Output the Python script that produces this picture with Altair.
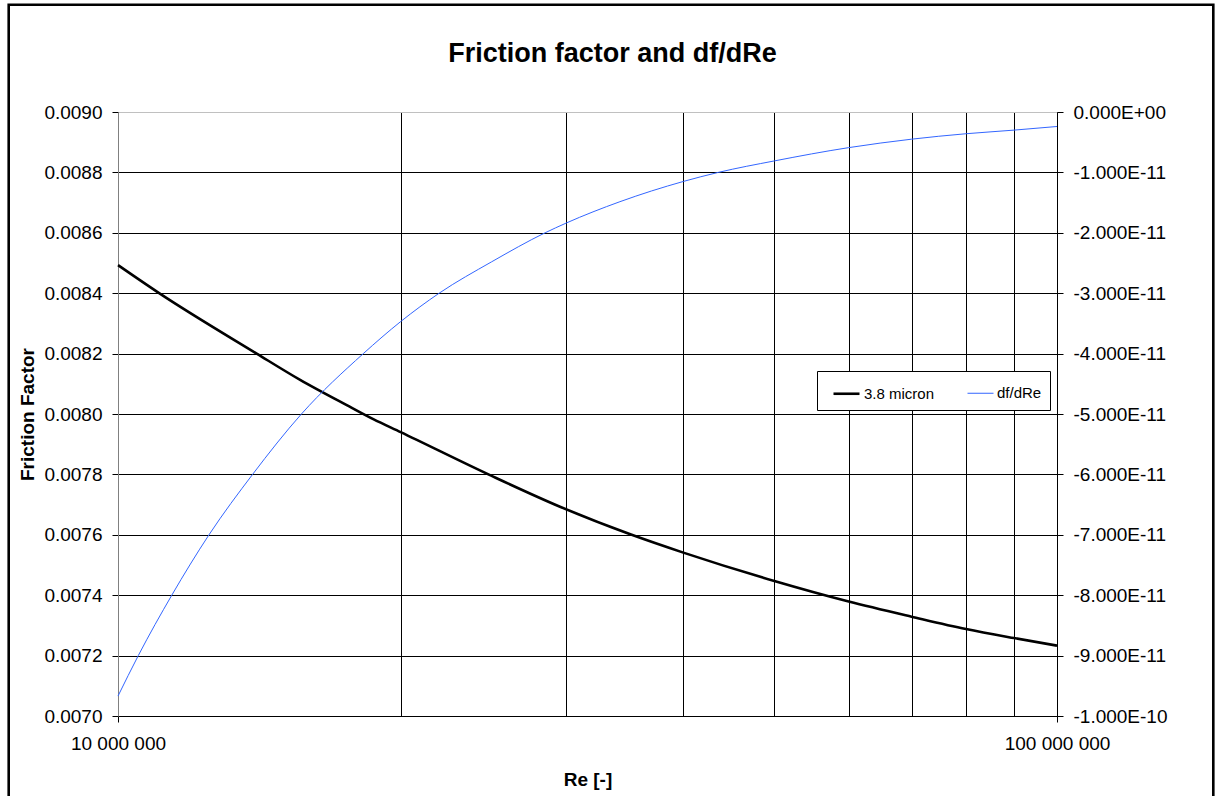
import altair as alt
import pandas as pd

# Friction factor (3.8 micron roughness) against Reynolds number
re_f = [1.0e7, 1.104e7, 1.405e7, 1.563e7, 1.763e7, 1.870e7, 2.0e7, 2.5e7, 2.956e7,
        3.524e7, 4.0e7, 5.0e7, 6.0e7, 7.0e7, 8.0e7, 9.0e7, 1.0e8]
f_vals = [0.008493, 0.008402, 0.008200, 0.008113, 0.008025, 0.007983, 0.007940, 0.007795,
          0.007693, 0.007600, 0.007541, 0.007447, 0.007379, 0.007329, 0.007288, 0.007258, 0.007233]

# Derivative df/dRe
re_d = [1.0e7, 1.051e7, 1.141e7, 1.250e7, 1.391e7, 1.568e7, 1.825e7, 2.0e7, 2.198e7, 2.5e7,
        2.850e7, 3.0e7, 3.424e7, 4.0e7, 4.358e7, 5.0e7, 6.0e7, 7.0e7, 8.0e7, 9.0e7, 1.0e8]
d_vals = [-9.67e-11, -9.0e-11, -8.0e-11, -7.0e-11, -6.0e-11, -5.0e-11, -4.0e-11, -3.47e-11,
          -3.0e-11, -2.48e-11, -2.0e-11, -1.84e-11, -1.485e-11, -1.15e-11, -1.0e-11, -0.81e-11,
          -0.59e-11, -0.45e-11, -0.36e-11, -0.30e-11, -0.24e-11]

series_names = ["3.8 micron", "df/dRe"]
series_colors = ["#000000", "#3366ff"]
series_widths = [2.6, 1.0]

x_ticks = [1e7, 2e7, 3e7, 4e7, 5e7, 6e7, 7e7, 8e7, 9e7, 1e8]
x_tick_labels = {1e7: "10 000 000", 1e8: "100 000 000"}

left_ticks = [0.0070, 0.0072, 0.0074, 0.0076, 0.0078, 0.0080, 0.0082, 0.0084, 0.0086, 0.0088, 0.0090]
right_ticks = [0.0, -1e-11, -2e-11, -3e-11, -4e-11, -5e-11, -6e-11, -7e-11, -8e-11, -9e-11, -1e-10]
right_tick_labels = ["0.000E+00", "-1.000E-11", "-2.000E-11", "-3.000E-11", "-4.000E-11",
                     "-5.000E-11", "-6.000E-11", "-7.000E-11", "-8.000E-11", "-9.000E-11",
                     "-1.000E-10"]

chart_title = "Friction factor and df/dRe"

FONT = "Liberation Sans"


def label_expr(mapping):
    expr = "''"
    for value, text in reversed(list(mapping.items())):
        expr = f"datum.value == {value!r} ? '{text}' : ({expr})"
    return expr


df = pd.concat([
    pd.DataFrame({"Re": re_f, "value": f_vals, "series": series_names[0]}),
    pd.DataFrame({"Re": re_d, "value": d_vals, "series": series_names[1]}),
])

x_enc = alt.X(
    "Re:Q",
    scale=alt.Scale(type="log", domain=[1e7, 1e8], nice=False),
    axis=alt.Axis(
        values=x_ticks,
        labelExpr=label_expr(x_tick_labels),
        title="Re [-]",
        grid=True,
        gridColor="#000000",
        domainColor="#000000",
        tickColor="#000000",
        tickSize=6,
        tickOpacity={"condition": {"test": "datum.value == 10000000 || datum.value == 100000000",
                                   "value": 1}, "value": 0},
        labelPadding=12,
        labelFlush=False,
        labelOverlap=False,
        titlePadding=17,
    ),
)

color_enc = alt.Color("series:N", scale=alt.Scale(domain=series_names, range=series_colors),
                      legend=alt.Legend(title=None))
width_enc = alt.StrokeWidth("series:N", scale=alt.Scale(domain=series_names, range=series_widths),
                            legend=alt.Legend(title=None))

base = alt.Chart(df)

friction = base.transform_filter(alt.datum.series == series_names[0]).mark_line(
    interpolate="monotone"
).encode(
    x=x_enc,
    y=alt.Y("value:Q", scale=alt.Scale(domain=[0.0070, 0.0090], nice=False, zero=False),
            axis=alt.Axis(values=left_ticks, format=".4f", title="Friction Factor",
                          grid=True,
                          gridColor={"condition": {"test": "datum.value >= 0.00899",
                                                   "value": "#c0c0c0"}, "value": "#000000"},
                          domainColor="#808080",
                          tickColor="#000000", tickSize=6, labelPadding=10, titlePadding=6,
                          labelFlush=False)),
    color=color_enc,
    strokeWidth=width_enc,
)

slope = base.transform_filter(alt.datum.series == series_names[1]).mark_line(
    interpolate="monotone"
).encode(
    x=x_enc,
    y=alt.Y("value:Q", scale=alt.Scale(domain=[-1e-10, 0], nice=False, zero=False),
            axis=alt.Axis(orient="right", values=right_ticks,
                          labelExpr=label_expr(dict(zip(right_ticks, right_tick_labels))),
                          title=None, grid=False, domainColor="#000000",
                          tickColor="#000000", tickSize=6, labelPadding=10, labelFlush=False)),
    color=color_enc,
    strokeWidth=width_enc,
)

one_row = pd.DataFrame({"k": [0]})

# Outer chart-area border
frame = alt.Chart(one_row).mark_rect(
    fillOpacity=0, stroke="#000000", strokeWidth=2.6
).encode(x=alt.value(-109.3), x2=alt.value(1095.3), y=alt.value(-107.3), y2=alt.value(700))

# Chart heading, centred on the whole chart area
heading = alt.Chart(one_row).mark_text(
    text=chart_title, font=FONT, fontSize=27, fontWeight="bold", color="#000000",
    align="center", baseline="alphabetic"
).encode(x=alt.value(494.5), y=alt.value(-50))

chart = alt.layer(frame, heading, friction, slope).resolve_scale(y="independent").properties(
    width=939,
    height=604,
    autosize="none",
    padding={"left": 118, "top": 112, "right": 161, "bottom": 80},
).configure_axis(
    labelFont=FONT, titleFont=FONT, labelFontSize=19, titleFontSize=19,
    labelColor="#000000", titleColor="#000000", titleFontWeight="bold",
    gridWidth=1, domainWidth=1, tickWidth=1,
).configure_legend(
    orient="none", legendX=699, legendY=259, direction="horizontal",
    symbolType="stroke", symbolSize=676, labelFont=FONT, labelFontSize=15,
    labelColor="#000000", padding=8, symbolOffset=7, strokeColor="#000000",
    fillColor="#ffffff", columnPadding=25, labelOffset=3, cornerRadius=0,
).configure_view(stroke=None)

chart.save("out.html", embed_options={"renderer": "svg", "actions": False})
